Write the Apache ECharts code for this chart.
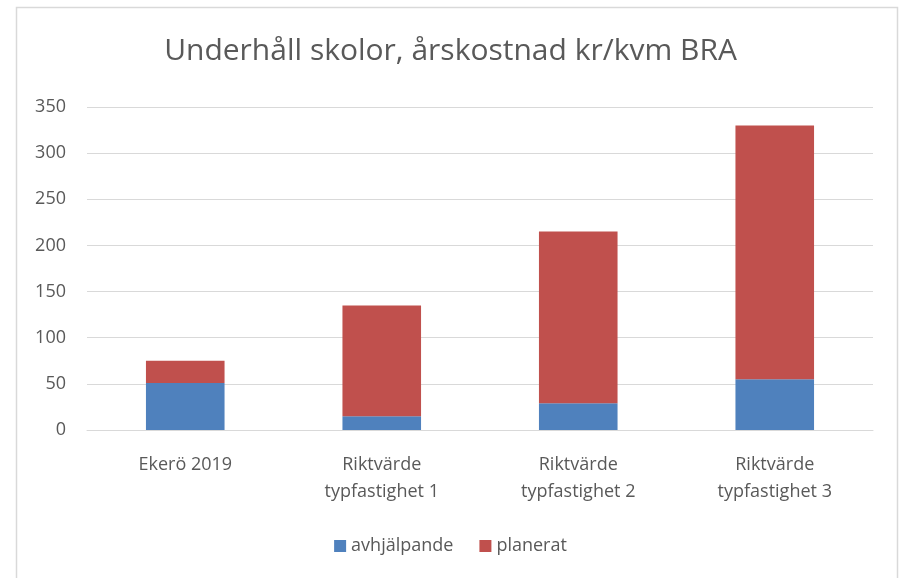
<!DOCTYPE html>
<html><head><meta charset="utf-8">
<script src="https://cdn.jsdelivr.net/npm/echarts@6/dist/echarts.min.js"></script>
<style>html,body{margin:0;padding:0;background:#fff}#c{width:901px;height:578px}</style>
</head><body><div id="c"></div>
<script>
const categories = ["Ekerö 2019", "Riktvärde\ntypfastighet 1", "Riktvärde\ntypfastighet 2", "Riktvärde\ntypfastighet 3"];
const avhjalpande = [51, 15, 29, 55];
const planerat = [24, 120, 186, 275];
const seriesNames = ["avhjälpande", "planerat"];
const titleText = "Underhåll skolor, årskostnad kr/kvm BRA";

const font = "'Open Sans', 'Noto Sans', sans-serif";
const chart = echarts.init(document.getElementById('c'), null, {renderer: 'canvas'});
chart.setOption({
  backgroundColor: '#fff',
  animation: false,
  graphic: [{type: 'rect', shape: {x: 16.5, y: 7.5, width: 881, height: 580}, style: {fill: 'none', stroke: '#d9d9d9', lineWidth: 1.5}, silent: true}],
  title: {text: titleText, left: 'center', top: 31, textStyle: {fontFamily: font, fontSize: 30, fontWeight: 'normal', color: '#595959'}},
  legend: {bottom: 18, left: 'center', itemWidth: 12, itemHeight: 12, itemGap: 26, icon: 'rect',
    textStyle: {fontFamily: font, fontSize: 18, color: '#595959'}, data: seriesNames},
  grid: {left: 87, right: 28, top: 107, bottom: 148, containLabel: false},
  xAxis: {type: 'category', data: categories,
    axisLine: {lineStyle: {color: '#d9d9d9'}}, axisTick: {show: false},
    axisLabel: {fontFamily: font, fontSize: 18, color: '#595959', lineHeight: 27, margin: 21}},
  yAxis: {type: 'value', min: 0, max: 350, interval: 50,
    axisLine: {show: false}, axisTick: {show: false},
    splitLine: {lineStyle: {color: '#d9d9d9'}},
    axisLabel: {fontFamily: font, fontSize: 18, color: '#595959', margin: 21}},
  series: [
    {name: seriesNames[0], type: 'bar', stack: 't', data: avhjalpande, barWidth: '40%', itemStyle: {color: '#4F81BD'}},
    {name: seriesNames[1], type: 'bar', stack: 't', data: planerat, barWidth: '40%', itemStyle: {color: '#C0504D'}}
  ]
});
</script></body></html>
